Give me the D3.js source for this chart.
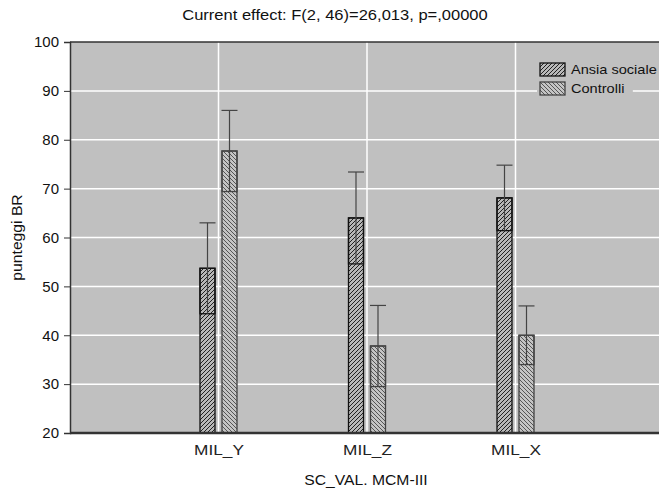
<!DOCTYPE html>
<html><head><meta charset="utf-8">
<script src="https://cdn.jsdelivr.net/npm/d3@7"></script>
<style>
body{margin:0;background:#fff;}
svg{display:block;font-family:"Liberation Sans",Arial,sans-serif;}
</style></head>
<body>
<svg id="chart" width="659" height="494"></svg>
<script>
const categories = ["MIL_Y", "MIL_Z", "MIL_X"];
const seriesNames = ["Ansia sociale", "Controlli"];
const ansiaMeans = [53.7, 64.0, 68.1];
const ansiaErr = [9.3, 9.4, 6.7];
const controlliMeans = [77.7, 37.8, 40.0];
const controlliErr = [8.3, 8.3, 6.0];
const yTicks = [20, 30, 40, 50, 60, 70, 80, 90, 100];
const titleText = "Current effect: F(2, 46)=26,013, p=,00000";
const yTitle = "punteggi BR";
const xTitle = "SC_VAL. MCM-III";

const svg = d3.select("#chart");
const m = {left: 70, top: 42, bottom: 433};
const step = 148.5;
const right = m.left + step * (categories.length + 1);

const x = d3.scalePoint().domain(["", ...categories, " "]).range([m.left, right]);
const y = d3.scaleLinear().domain([20, 100]).range([m.bottom, m.top]);

function stretch(sel, factor) {
  sel.each(function() {
    const w = this.getComputedTextLength();
    d3.select(this).attr("textLength", w * factor).attr("lengthAdjust", "spacingAndGlyphs");
  });
}

const defs = svg.append("defs");
function hatch(id, dir, stroke, bg) {
  const p = defs.append("pattern").attr("id", id).attr("patternUnits", "userSpaceOnUse")
    .attr("width", 4).attr("height", 4);
  p.append("rect").attr("width", 4).attr("height", 4).attr("fill", bg);
  if (dir > 0) {
    p.append("path").attr("d", "M-1,1 l2,-2 M0,4 l4,-4 M3,5 l2,-2").attr("stroke", stroke).attr("stroke-width", 1);
  } else {
    p.append("path").attr("d", "M-1,3 l2,2 M0,0 l4,4 M3,-1 l2,2").attr("stroke", stroke).attr("stroke-width", 1);
  }
}
hatch("hA", 1, "#222", "#b8b8b8");
hatch("hC", -1, "#555", "#c4c4c4");

// plot background
svg.append("rect").attr("x", m.left).attr("y", m.top).attr("width", right - m.left).attr("height", m.bottom - m.top)
  .attr("fill", "#c0c0c0");

// gridlines
svg.append("g").selectAll("line").data(yTicks.slice(1, -1)).join("line")
  .attr("x1", m.left).attr("x2", right).attr("y1", d => y(d)).attr("y2", d => y(d))
  .attr("stroke", "#fff").attr("stroke-width", 1.5);
svg.append("g").selectAll("line").data(categories).join("line")
  .attr("x1", d => x(d)).attr("x2", d => x(d)).attr("y1", m.top).attr("y2", m.bottom)
  .attr("stroke", "#fff").attr("stroke-width", 1.5);

const barW = 15, gap = 3.5;
const series = [
  {name: seriesNames[0], means: ansiaMeans, errs: ansiaErr, off: -gap - barW, fill: "url(#hA)", stroke: "#111"},
  {name: seriesNames[1], means: controlliMeans, errs: controlliErr, off: gap, fill: "url(#hC)", stroke: "#444"}
];

series.forEach(s => {
  const g = svg.append("g");
  const data = categories.map((c, i) => ({c, v: s.means[i], e: s.errs[i]}));
  g.selectAll("rect.bar").data(data).join("rect").attr("class", "bar")
    .attr("x", d => x(d.c) + s.off).attr("width", barW)
    .attr("y", d => y(d.v)).attr("height", d => y(20) - y(d.v))
    .attr("fill", s.fill).attr("stroke", s.stroke).attr("stroke-width", 1.3);
  g.selectAll("rect.box").data(data).join("rect").attr("class", "box")
    .attr("x", d => x(d.c) + s.off).attr("width", barW)
    .attr("y", d => y(d.v)).attr("height", d => y(d.v - d.e) - y(d.v))
    .attr("fill", "none").attr("stroke", s.stroke).attr("stroke-width", 1.3);
  g.selectAll("line.wh").data(data).join("line").attr("class", "wh")
    .attr("x1", d => x(d.c) + s.off + barW / 2).attr("x2", d => x(d.c) + s.off + barW / 2)
    .attr("y1", d => y(d.v + d.e)).attr("y2", d => y(d.v - d.e))
    .attr("stroke", "#444").attr("stroke-width", 1.2);
  g.selectAll("line.cap").data(data).join("line").attr("class", "cap")
    .attr("x1", d => x(d.c) + s.off + barW / 2 - 8).attr("x2", d => x(d.c) + s.off + barW / 2 + 8)
    .attr("y1", d => y(d.v + d.e)).attr("y2", d => y(d.v + d.e))
    .attr("stroke", "#444").attr("stroke-width", 1.2);
});

// border / axes
svg.append("line").attr("x1", m.left).attr("x2", right).attr("y1", m.top).attr("y2", m.top).attr("stroke", "#333").attr("stroke-width", 1.5);
svg.append("line").attr("x1", m.left).attr("x2", right).attr("y1", m.bottom).attr("y2", m.bottom).attr("stroke", "#333").attr("stroke-width", 2.5);

const yAxis = svg.append("g").attr("transform", `translate(${m.left},0)`)
  .call(d3.axisLeft(y).tickValues(yTicks).tickSize(6).tickPadding(5));
yAxis.select(".domain").attr("stroke", "#333").attr("stroke-width", 1.5);
yAxis.selectAll(".tick line").attr("stroke", "#333");
yAxis.selectAll(".tick text").attr("font-size", 15).attr("fill", "#111").attr("font-family", "Liberation Sans, Arial, sans-serif");

const xAxis = svg.append("g").attr("transform", `translate(0,${m.bottom})`)
  .call(d3.axisBottom(x).tickValues(categories).tickSize(0).tickPadding(11));
xAxis.select(".domain").remove();
xAxis.selectAll(".tick text").attr("font-size", 15).attr("fill", "#222").attr("font-family", "Liberation Sans, Arial, sans-serif")
  .call(stretch, 1.15);

// titles
svg.append("text").attr("x", 335).attr("y", 20).attr("text-anchor", "middle").attr("font-size", 14).attr("fill", "#111").text(titleText)
  .call(stretch, 1.18);
svg.append("text").attr("transform", `translate(22,${(m.top + m.bottom) / 2}) rotate(-90)`).attr("text-anchor", "middle")
  .attr("font-size", 14).attr("fill", "#111").text(yTitle).call(stretch, 1.12);
svg.append("text").attr("x", 366).attr("y", 485).attr("text-anchor", "middle").attr("font-size", 14).attr("fill", "#111").text(xTitle)
  .call(stretch, 1.12);

// legend
const leg = svg.append("g").attr("transform", "translate(540,63)");
const legFills = ["url(#hA)", "url(#hC)"];
const legStroke = ["#111", "#444"];
seriesNames.forEach((n, i) => {
  const row = leg.append("g").attr("transform", `translate(0,${i * 19})`);
  const t = row.append("text").attr("x", 31).attr("y", 11).attr("font-size", 13).attr("fill", "#111").text(n);
  stretch(t, 1.12);
  const w = t.node().getComputedTextLength() * 1.12;
  row.insert("rect", "text").attr("x", -3).attr("y", -3).attr("width", w + 36).attr("height", 18).attr("fill", "#c0c0c0");
  row.append("rect").attr("x", 0).attr("y", 0).attr("width", 25).attr("height", 13)
    .attr("fill", legFills[i]).attr("stroke", legStroke[i]).attr("stroke-width", 1.3);
});
</script>
</body></html>
